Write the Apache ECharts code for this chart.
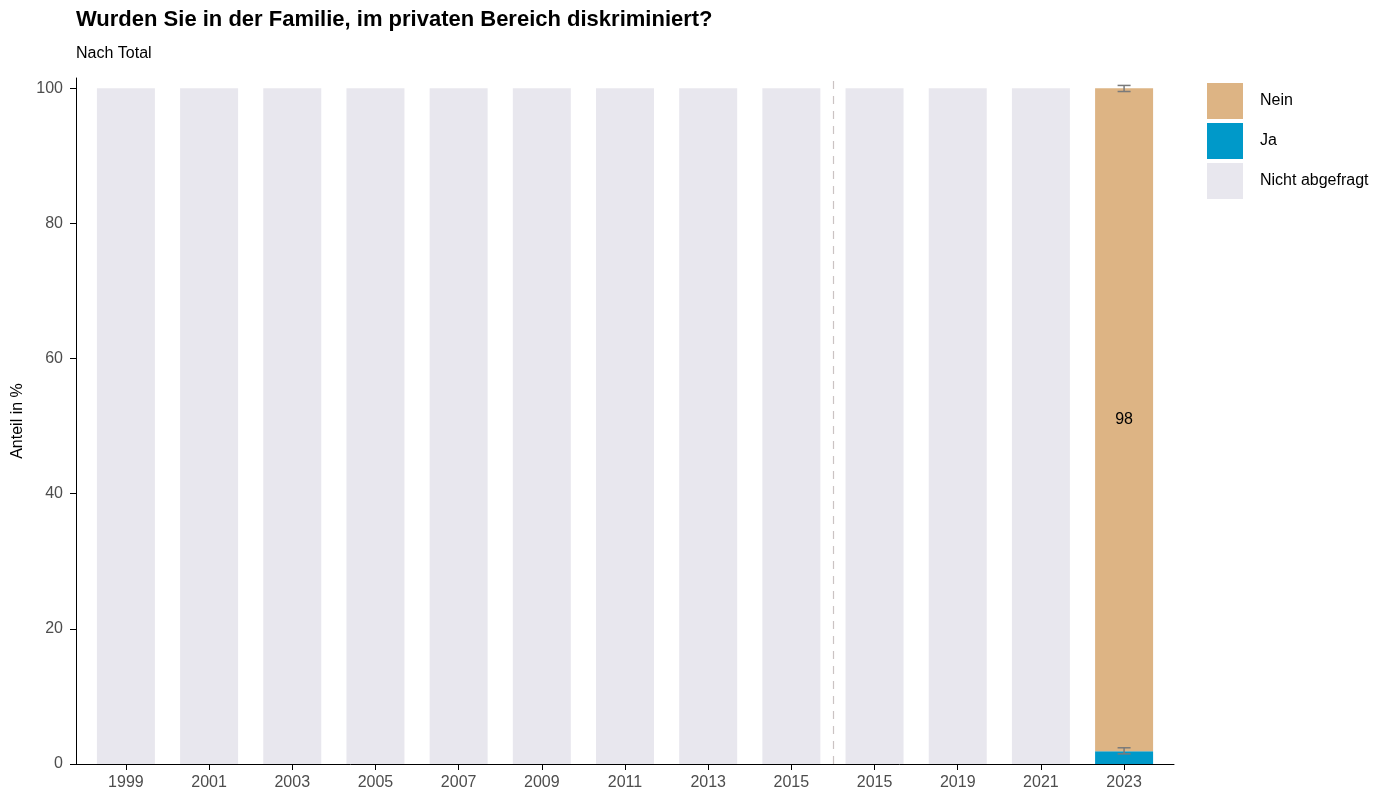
<!DOCTYPE html>
<html>
<head>
<meta charset="utf-8">
<script src="https://cdn.jsdelivr.net/npm/echarts@6/dist/echarts.min.js"></script>
<style>
  html, body { margin: 0; padding: 0; background: #fff; }
  #chart { width: 1391px; height: 795px; }
</style>
</head>
<body>
<div id="chart"></div>
<script>
// data
var years = ['1999', '2001', '2003', '2005', '2007', '2009', '2011', '2013', '2015', '2015', '2019', '2021', '2023'];
var nein = [0, 0, 0, 0, 0, 0, 0, 0, 0, 0, 0, 0, 98.1];
var ja = [0, 0, 0, 0, 0, 0, 0, 0, 0, 0, 0, 0, 1.9];
var nichtAbgefragt = [100, 100, 100, 100, 100, 100, 100, 100, 100, 100, 100, 100, 0];
// confidence intervals for 2023
var jaCi = [1.5, 2.4];
var neinCi = [97.6, 98.5];
var breakAt = 8.5;
var yTicks = [0, 20, 40, 60, 80, 100];

var font = 'Liberation Sans, Arial, sans-serif';
var idx = years.map(function (y, i) { return i; });

// value first so the stack goes on y
function pairs(arr) {
    return arr.map(function (v, i) { return [v, i]; });
}

// error bars at stacked positions
var last = years.length - 1;
var errData = [
    [last, jaCi[0], jaCi[1]],
    [last, ja[last] + neinCi[0], ja[last] + neinCi[1]]
];

var chart = echarts.init(document.getElementById('chart'));
var option = {
    animation: false,
    textStyle: { fontFamily: font },
    title: [
        {
            text: 'Wurden Sie in der Familie, im privaten Bereich diskriminiert?',
            left: 76,
            top: 9,
            padding: 0,
            textStyle: { fontSize: 22, fontWeight: 'bold', color: '#000', fontFamily: font }
        },
        {
            text: 'Nach Total',
            left: 76,
            top: 46,
            padding: 0,
            textStyle: { fontSize: 16, fontWeight: 'normal', color: '#000', fontFamily: font }
        }
    ],
    legend: {
        orient: 'vertical',
        left: 1207,
        top: 83,
        padding: 0,
        itemWidth: 36,
        itemHeight: 36,
        itemGap: 4,
        icon: 'rect',
        data: ['Nein', 'Ja', 'Nicht abgefragt'],
        textStyle: { fontSize: 16, color: '#000', fontFamily: font, padding: [3, 0, 0, 12] }
    },
    grid: {
        left: 76,
        right: 217,
        top: 78,
        bottom: 31
    },
    xAxis: {
        type: 'value',
        min: -0.6,
        max: 12.6,
        splitLine: { show: false },
        axisLine: { show: true, onZero: false, lineStyle: { color: '#000', width: 1 } },
        axisTick: {
            show: true,
            length: 6,
            customValues: idx,
            lineStyle: { color: '#000' }
        },
        axisLabel: {
            customValues: idx,
            fontSize: 16,
            color: '#4d4d4d',
            margin: 11,
            fontFamily: font,
            formatter: function (v) { return years[Math.round(v)]; }
        }
    },
    yAxis: {
        type: 'value',
        min: 0,
        max: 101.5,
        name: 'Anteil in %',
        nameLocation: 'middle',
        nameGap: 50,
        nameTextStyle: { fontSize: 16, color: '#000', fontFamily: font },
        splitLine: { show: false },
        axisLine: { show: true, onZero: false, lineStyle: { color: '#000', width: 1 } },
        axisTick: {
            show: true,
            length: 6,
            customValues: yTicks,
            lineStyle: { color: '#000' }
        },
        axisLabel: {
            customValues: yTicks,
            fontSize: 16,
            color: '#4d4d4d',
            margin: 13,
            fontFamily: font
        }
    },
    series: [
        {
            name: 'Ja',
            type: 'bar',
            stack: 'total',
            barWidth: 58,
            encode: { x: 1, y: 0 },
            data: pairs(ja),
            itemStyle: { color: '#0099c9' }
        },
        {
            name: 'Nein',
            type: 'bar',
            stack: 'total',
            barWidth: 58,
            encode: { x: 1, y: 0 },
            data: pairs(nein),
            itemStyle: { color: '#ddb484' },
            label: {
                show: true,
                position: 'inside',
                fontSize: 16,
                color: '#000',
                fontFamily: font,
                formatter: function (p) { return p.value[0] > 0 ? Math.round(p.value[0]) : ''; }
            }
        },
        {
            name: 'Nicht abgefragt',
            type: 'bar',
            stack: 'total',
            barWidth: 58,
            encode: { x: 1, y: 0 },
            data: pairs(nichtAbgefragt),
            itemStyle: { color: '#e8e7ee' },
            markLine: {
                silent: true,
                symbol: 'none',
                label: { show: false },
                lineStyle: { color: '#cbc3c3', type: [8, 7], width: 1.2 },
                data: [{ xAxis: breakAt }]
            }
        },
        {
            name: 'err',
            type: 'custom',
            data: errData,
            z: 5,
            renderItem: function (params, api) {
                var x = api.value(0);
                var lo = api.coord([x, api.value(1)]);
                var hi = api.coord([x, api.value(2)]);
                var w = 6.5;
                var st = { stroke: '#7a7a7a', lineWidth: 1.5 };
                return {
                    type: 'group',
                    children: [
                        { type: 'line', shape: { x1: lo[0], y1: lo[1], x2: hi[0], y2: hi[1] }, style: st },
                        { type: 'line', shape: { x1: lo[0] - w, y1: lo[1], x2: lo[0] + w, y2: lo[1] }, style: st },
                        { type: 'line', shape: { x1: hi[0] - w, y1: hi[1], x2: hi[0] + w, y2: hi[1] }, style: st }
                    ]
                };
            }
        }
    ]
};
chart.setOption(option);
window.addEventListener('resize', function () {
    chart.resize();
});
</script>
</body>
</html>
